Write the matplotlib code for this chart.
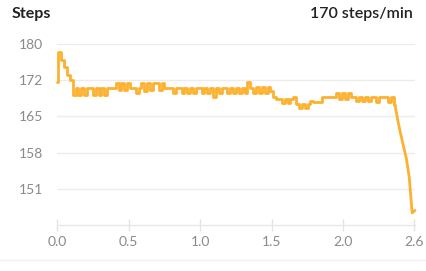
import matplotlib
matplotlib.use("Agg")
import matplotlib.pyplot as plt
from matplotlib.lines import Line2D
import numpy as np

plt.rcParams['font.family'] = ['Lato', 'DejaVu Sans']

# time in minutes, one sample every 0.02
step_x = 0.02
cadence = [
    172.0, 178.0, 176.5, 175.0, 173.5, 172.5, 169.5, 170.8, 169.5, 170.8,
    169.5, 170.8, 170.8, 169.5, 170.8, 169.5, 170.8, 169.5, 170.8, 170.8,
    170.8, 171.9, 170.5, 171.9, 170.5, 171.9, 170.8, 170.8, 169.8, 170.8,
    171.9, 170.3, 171.9, 170.5, 171.9, 171.9, 170.5, 171.9, 170.8, 170.8,
    170.8, 169.8, 170.8, 170.8, 169.8, 170.8, 169.8, 170.8, 169.8, 170.8,
    170.8, 169.8, 170.8, 169.8, 170.8, 169.0, 170.8, 169.8, 170.8, 170.8,
    169.8, 170.8, 169.8, 170.8, 169.8, 170.8, 169.8, 172.0, 170.9, 169.8,
    171.0, 169.8, 171.0, 169.9, 171.0, 170.3, 169.0, 168.6, 168.6, 167.8,
    168.6, 167.9, 168.6, 169.0, 167.7, 166.9, 167.7, 166.9, 167.7, 168.2,
    168.1, 168.1, 168.1, 169.1, 169.1, 169.1, 169.1, 169.1, 169.9, 168.6,
    169.9, 168.6, 169.9, 169.1, 169.1, 168.3, 169.1, 168.3, 169.1, 168.3,
    169.1, 169.1, 168.0, 169.1, 169.1, 169.1, 168.0, 169.1, 167.5, 164.4,
    161.7, 159.2, 156.8, 153.0, 146.0, 146.5,
]
minutes = np.arange(len(cadence)) * step_x
drop_start = 118  # index where the final fall begins

y_ticks = [150.8, 158.0, 165.2, 172.4, 179.6]
y_labels = ['151', '158', '165', '172', '180']
x_ticks = [0.0, 0.5, 1.0, 1.5, 2.0, 2.49]
x_labels = ['0.0', '0.5', '1.0', '1.5', '2.0', '2.6']

W, H = 426, 271
fig = plt.figure(figsize=(W / 100, H / 100), dpi=100)
ax = fig.add_axes([57 / W, 1 - 225 / H, (415 - 57) / W, (225 - 44) / H])

line_kw = dict(color='#FCB130', lw=2.0, clip_on=False, zorder=3,
               solid_joinstyle='round', solid_capstyle='round')
ax.plot(minutes[:drop_start + 1], cadence[:drop_start + 1], drawstyle='steps-mid', **line_kw)
ax.plot(minutes[drop_start:], cadence[drop_start:], **line_kw)

ax.set_xlim(0, 2.50)
ax.set_ylim(143.6, 179.6)
ax.set_yticks(y_ticks)
ax.set_yticklabels(y_labels)
ax.set_xticks(x_ticks)
ax.set_xticklabels(x_labels)

for s in ['top', 'right', 'left']:
    ax.spines[s].set_visible(False)
ax.spines['bottom'].set_color('#e8e8e8')
ax.spines['bottom'].set_linewidth(1.0)

ax.grid(axis='y', color='#ececec', lw=1.0)
ax.set_axisbelow(True)
ax.tick_params(axis='y', length=0, pad=10, labelsize=10, labelcolor='#8a8a8a')
ax.tick_params(axis='x', direction='inout', length=8, width=1.0, color='#e3e3e3',
               pad=4, labelsize=10, labelcolor='#8a8a8a')

fig.text(12 / W, 1 - 18 / H, 'Steps', fontsize=11.5, fontweight='bold',
         color='#222222', va='baseline', ha='left')
fig.text(413 / W, 1 - 18 / H, '170 steps/min', fontsize=11.5, fontweight='semibold',
         color='#222222', va='baseline', ha='right')

fig.add_artist(Line2D([0, 1], [1 - 260 / H, 1 - 260 / H], transform=fig.transFigure,
                      color='#f0f0f0', lw=1.0))

fig.savefig('out.png', dpi=100)
